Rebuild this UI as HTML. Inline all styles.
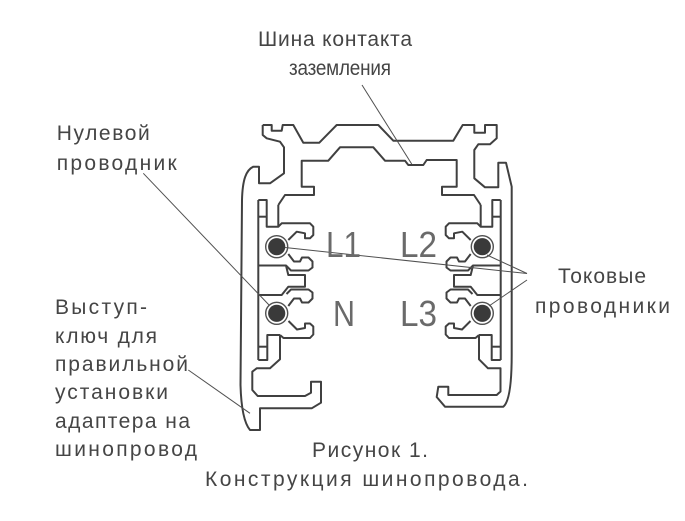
<!DOCTYPE html>
<html><head><meta charset="utf-8"><style>
html,body{margin:0;padding:0;background:#fff;}
svg{display:block;}
text{font-family:"Liberation Sans","DejaVu Sans",sans-serif;}
</style></head><body>
<svg width="685" height="521" viewBox="0 0 685 521" xmlns="http://www.w3.org/2000/svg">
<rect width="685" height="521" fill="#fff"/>
<g fill="none" stroke="#404040" stroke-width="2" stroke-linejoin="round">
<path d="M262.7,125 L271.7,125 L271.7,130.7 L281.7,130.7 L282.7,125 L293.3,125 L303.3,142.7 L319.3,142.7 L336.7,125 L378.3,125 L393.3,140.7 L453.3,140.7 L462.7,125 L474.3,125 L474.3,132.7 L485,132.7 L485,125 L496.7,125 L496.7,138.3 L490,144.3 L478.3,144.3 L474.3,150 L474.3,178.3 L485,187.3 L498.3,187.3 L498.3,162.7 L506,162.7 L511.7,186.7 L511.7,355 Q511.7,400 503.3,406.7 L445,406.7 L436.7,397 L438.3,386.7 L448.3,386.7 L448.3,395 L496.7,395 L500.5,391.5 L500.5,368.3 L488,368.3 L479,359.3 L479,335"/>
<path d="M262.7,125 L262.7,135 L266.7,138.3 L280,141.7 L284,147.3 L284,173.3 L270,183.3 L259,183.3 L259,166.7 L253.3,166.7 C246,170 242.5,180 242,200 L240.5,385 Q241.5,420 250,430 L260,430 L260,408.3 L311.7,408.3 L321,402.7 L321,381.7 L311,381.7 L311,392.7 L305,396 L257.7,396 L252.3,390 L252.3,371.7 L256.7,368.3 L270,368.3 L280,359.3 L280,335"/>
<path d="M278.3,205 L285,195 L314,195 L314,186.7 L301.7,186.7 L301.7,160.7 L328.3,160.7 L340,147.3 L373.3,147.3 L385,160.7 L405,160.7 L408.3,165 L423.3,165 L426.7,160 L456.7,160 L456.7,186.7 L442,186.7 L442,195 L474,195 L480.7,205"/>
<g>
<path d="M258.3,200 L258.3,360"/>
<path d="M258.3,200 L266.7,200 L266.7,226.7 L278.3,226.7 L278.3,205"/>
<path d="M258.3,216.7 L266.7,216.7"/>
<path d="M278.3,226.7 L281.7,223.3 L310,223.3 L313.3,226.7 L313.3,235 L310,238.3 L305,238.3 L305,233.3 L296.7,231.7 L288.3,240"/>
<path d="M288.3,254 L294,261.5 L300,261.5 L302,257.5 L308.5,257.5 L312.5,261.5 L312.5,267.5 L308.5,270.5 L291,270.5 L286,265.5 L258.3,265.5"/>
<path d="M286,265.5 L288.3,275 L305,275 L305,286.7 L288.3,286.7 L281.7,295 L258.3,295"/>
<path d="M288.3,306 L294,298.5 L300,298.5 L302,302.5 L308.5,302.5 L312.5,298.5 L312.5,292.5 L308.5,289.5 L291,289.5 L286.5,294"/>
<path d="M280,335 L283.5,338 L310,338 L313.3,334.5 L313.3,326.5 L310,323.5 L305,323.5 L305,328 L297,329.5 L288.5,321"/>
<path d="M258.3,346.7 L267.3,346.7"/>
<path d="M258.3,360 L267.3,360 L267.3,335 L280,335"/>
</g>
<g transform="translate(759,0) scale(-1,1)">
<path d="M258.3,200 L258.3,360"/>
<path d="M258.3,200 L266.7,200 L266.7,226.7 L278.3,226.7 L278.3,205"/>
<path d="M258.3,216.7 L266.7,216.7"/>
<path d="M278.3,226.7 L281.7,223.3 L310,223.3 L313.3,226.7 L313.3,235 L310,238.3 L305,238.3 L305,233.3 L296.7,231.7 L288.3,240"/>
<path d="M288.3,254 L294,261.5 L300,261.5 L302,257.5 L308.5,257.5 L312.5,261.5 L312.5,267.5 L308.5,270.5 L291,270.5 L286,265.5 L258.3,265.5"/>
<path d="M286,265.5 L288.3,275 L305,275 L305,286.7 L288.3,286.7 L281.7,295 L258.3,295"/>
<path d="M288.3,306 L294,298.5 L300,298.5 L302,302.5 L308.5,302.5 L312.5,298.5 L312.5,292.5 L308.5,289.5 L291,289.5 L286.5,294"/>
<path d="M280,335 L283.5,338 L310,338 L313.3,334.5 L313.3,326.5 L310,323.5 L305,323.5 L305,328 L297,329.5 L288.5,321"/>
<path d="M258.3,346.7 L267.3,346.7"/>
<path d="M258.3,360 L267.3,360 L267.3,335 L280,335"/>
</g>
</g>
<g>
<circle cx="276.7" cy="246.7" r="11" fill="#fff" stroke="#505050" stroke-width="1.4"/>
<circle cx="276.7" cy="246.7" r="8.6" fill="#3a3a3a"/>
<circle cx="276.7" cy="313.3" r="11" fill="#fff" stroke="#505050" stroke-width="1.4"/>
<circle cx="276.7" cy="313.3" r="8.6" fill="#3a3a3a"/>
<circle cx="482.3" cy="246.7" r="11" fill="#fff" stroke="#505050" stroke-width="1.4"/>
<circle cx="482.3" cy="246.7" r="8.6" fill="#3a3a3a"/>
<circle cx="482.3" cy="313.3" r="11" fill="#fff" stroke="#505050" stroke-width="1.4"/>
<circle cx="482.3" cy="313.3" r="8.6" fill="#3a3a3a"/>
</g>
<g stroke="#505050" stroke-width="1" fill="none">
<line x1="362" y1="85" x2="411.7" y2="164"/>
<line x1="143.3" y1="173.3" x2="269.5" y2="305.5"/>
<line x1="285" y1="247.5" x2="527" y2="273.5"/>
<line x1="487" y1="255" x2="527" y2="273.5"/>
<line x1="489" y1="306" x2="527" y2="280"/>
<line x1="188.3" y1="370" x2="250" y2="413.3"/>
</g>
<g fill="#6a6a6a" font-size="36">
<text x="326" y="257" textLength="35" lengthAdjust="spacingAndGlyphs">L1</text>
<text x="400" y="257" textLength="37" lengthAdjust="spacingAndGlyphs">L2</text>
<text x="333" y="326" textLength="22" lengthAdjust="spacingAndGlyphs">N</text>
<text x="400" y="326" textLength="37" lengthAdjust="spacingAndGlyphs">L3</text>
</g>
<g fill="#454545" font-size="21">
<text x="258" y="46" textLength="154" lengthAdjust="spacing">Шина контакта</text>
<text transform="translate(289,75) scale(0.9,1)" textLength="113.3" lengthAdjust="spacing">заземления</text>
<text x="56.7" y="140" textLength="93" lengthAdjust="spacing">Нулевой</text>
<text x="56.7" y="170" textLength="120" lengthAdjust="spacing">проводник</text>
<text x="558" y="283" textLength="88" lengthAdjust="spacing">Токовые</text>
<text x="535" y="313" textLength="135" lengthAdjust="spacing">проводники</text>
<text x="55" y="314" textLength="92" lengthAdjust="spacing">Выступ-</text>
<text x="55" y="343" textLength="102" lengthAdjust="spacing">ключ для</text>
<text x="55" y="371" textLength="133" lengthAdjust="spacing">правильной</text>
<text x="55" y="399" textLength="113" lengthAdjust="spacing">установки</text>
<text x="55" y="428" textLength="135" lengthAdjust="spacing">адаптера на</text>
<text x="55" y="456" textLength="142" lengthAdjust="spacing">шинопровод</text>
<text x="312" y="457" textLength="116" lengthAdjust="spacing">Рисунок 1.</text>
<text x="205" y="486" textLength="323" lengthAdjust="spacing">Конструкция шинопровода.</text>
</g>
</svg>
</body></html>
